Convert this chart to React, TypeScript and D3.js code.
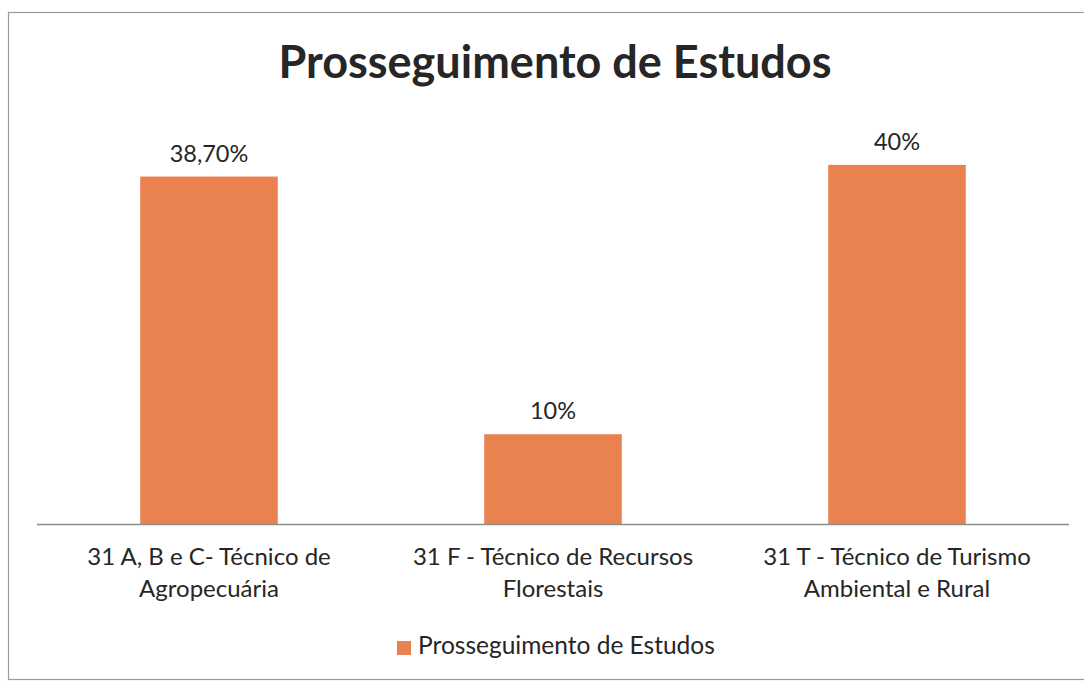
import React from "react";
import * as d3 from "d3";

const categories: string[][] = [
  ["31 A, B e C- Técnico de", "Agropecuária"],
  ["31 F - Técnico de Recursos", "Florestais"],
  ["31 T - Técnico de Turismo", "Ambiental e Rural"],
];
const values: number[] = [38.7, 10, 40];
const valueLabels: string[] = ["38,70%", "10%", "40%"];
const title = "Prosseguimento de Estudos";
const seriesName = "Prosseguimento de Estudos";

const W = 1084;
const H = 682;
const FONT = "Lato, 'Open Sans', sans-serif";
const TEXT = "#262626";
const BAR = "#EA8250";

export default function App() {
  const x = d3
    .scaleBand<number>()
    .domain(values.map((_, i) => i))
    .range([37, 1069])
    .paddingInner(0.6)
    .paddingOuter(0.3);
  const y = d3.scaleLinear().domain([0, 45]).range([524, 120]);

  return (
    <svg
      width={W}
      height={H}
      style={{ position: "absolute", left: 0, top: 0, background: "#fff" }}
    >
      <rect x={8.5} y={12.5} width={W + 10} height={667} fill="#fff" stroke="#9a9a9a" strokeWidth={1.2} />
      <text
        x={555}
        y={78}
        textAnchor="middle"
        fontFamily={FONT}
        fontWeight={700}
        fontSize={45}
        fill={TEXT}
      >
        {title}
      </text>
      {values.map((v, i) => (
        <g key={i}>
          <rect
            x={x(i)!}
            y={y(v)}
            width={x.bandwidth()}
            height={y(0) - y(v)}
            fill={BAR}
          />
          <text
            x={x(i)! + x.bandwidth() / 2}
            y={y(v) - 15}
            textAnchor="middle"
            fontFamily={FONT}
            fontSize={23.5}
            fill={TEXT}
          >
            {valueLabels[i]}
          </text>
          {categories[i].map((line, j) => (
            <text
              key={j}
              x={x(i)! + x.bandwidth() / 2}
              y={565 + j * 32}
              textAnchor="middle"
              fontFamily={FONT}
              fontSize={24}
              fill={TEXT}
            >
              {line}
            </text>
          ))}
        </g>
      ))}
      <line x1={37} x2={1069} y1={524.5} y2={524.5} stroke="#8c8c8c" strokeWidth={1.3} />
      <rect x={397} y={641} width={14} height={14} fill={BAR} />
      <text x={418} y={654} fontFamily={FONT} fontSize={24.5} fill={TEXT}>
        {seriesName}
      </text>
    </svg>
  );
}
